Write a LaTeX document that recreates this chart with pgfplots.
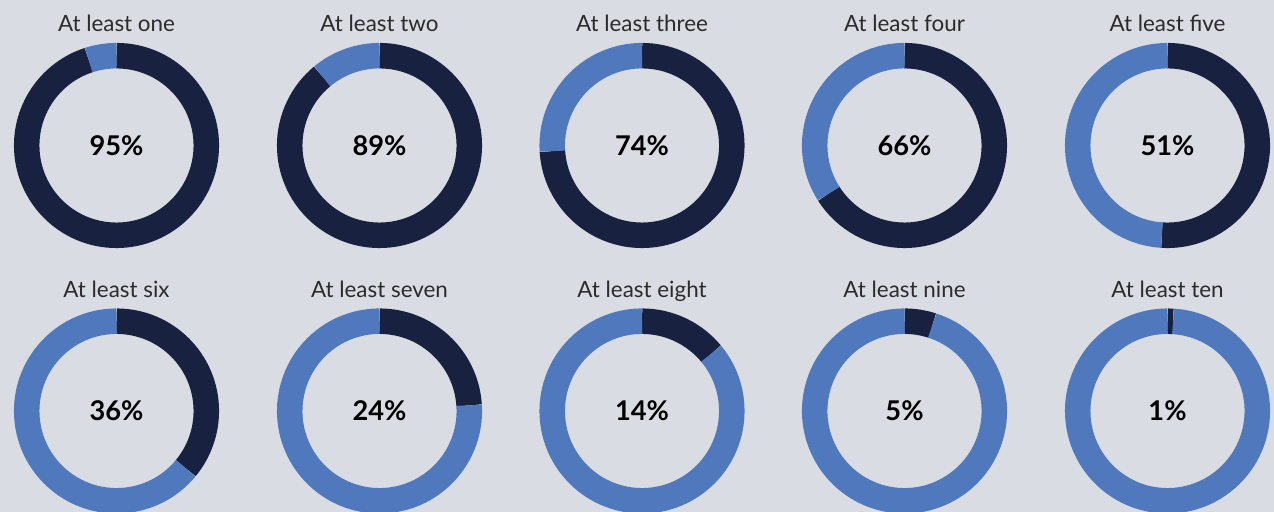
\documentclass[border=0pt]{standalone}
\usepackage{pgfplots}
\pgfplotsset{compat=1.18}
\usepackage{pgfplotstable}
\usepackage{fontspec}
\setmainfont{Lato}
\definecolor{bg}{HTML}{D9DCE3}
\definecolor{navy}{HTML}{182240}
\definecolor{lblue}{HTML}{5079BD}
\definecolor{txt}{HTML}{2B2B2B}

% centres in pixel units (origin bottom left), share in percent
\pgfplotstableread[col sep=comma]{
x,y,pct,label
116.5,366.5,95,At least one
379.5,366.5,89,At least two
642,366.5,74,At least three
904.5,366.5,66,At least four
1167.5,366.5,51,At least five
116.5,101,36,At least six
379.5,101,24,At least seven
642,101,14,At least eight
904.5,101,5,At least nine
1167.5,101,1,At least ten
}\donuts

\newcommand\ringr{44.9pt}
\newcommand\ringw{12.75pt}

\begin{document}
\begin{tikzpicture}
\fill[bg] (0,0) rectangle (637pt,256pt);
\begin{axis}[
  scale only axis, width=637pt, height=256pt,
  xmin=0, xmax=1274, ymin=0, ymax=512,
  hide axis, clip=false,
  /pgf/number format/assume math mode=true,
]
\addplot[scatter, only marks, mark=*, mark size=0pt,
  mark options={draw=none, fill=none},
  point meta=explicit symbolic,
  visualization depends on={\thisrow{pct} \as \pct},
  scatter/@pre marker code/.code={%
    \pgfmathsetmacro\endang{90-3.6*\pct}%
    \draw[navy, line width=\ringw] (0,\ringr) arc[start angle=90, end angle=\endang, radius=\ringr];
    \draw[lblue, line width=\ringw] (\endang:\ringr) arc[start angle=\endang, end angle=-270, radius=\ringr];
    \node[font=\fontsize{13.6}{15}\selectfont\bfseries, text=black, inner sep=0pt] at (0,0) {\pgfmathprintnumber[fixed, precision=0, assume math mode=true]{\pct}\%};
    \node[font=\fontsize{11.2}{14}\selectfont, text=txt, anchor=base, inner sep=0pt] at (0,56.75pt) {\pgfplotspointmeta};
    \begin{scope}
  },
  scatter/@post marker code/.code={\end{scope}},
] table[x=x, y=y, meta=label] {\donuts};
\end{axis}
\pgfresetboundingbox
\path (0,0) rectangle (637pt,256pt);
\end{tikzpicture}
\end{document}
